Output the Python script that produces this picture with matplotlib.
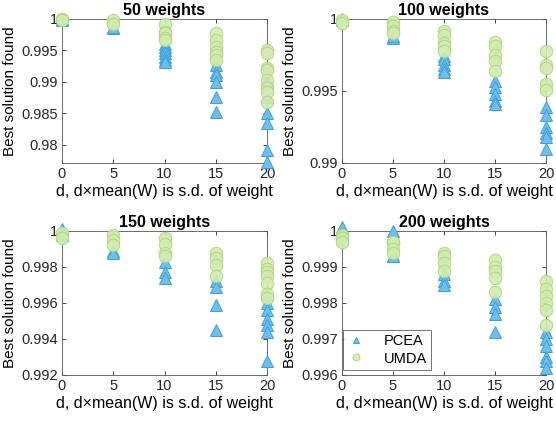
import matplotlib
matplotlib.use("Agg")
import matplotlib.pyplot as plt
from matplotlib.ticker import FuncFormatter

plt.rcParams['font.family'] = ['Liberation Sans', 'DejaVu Sans']

d_values = [0, 5, 10, 15, 20]
titles = ["50 weights", "100 weights", "150 weights", "200 weights"]

# PCEA results per panel, per d
pcea = [
    [[1.0, 0.9999], [0.9986, 0.9987], [0.9961, 0.9956, 0.9951, 0.9946, 0.994, 0.9935, 0.9932],
     [0.9927, 0.9916, 0.9911, 0.99, 0.9876, 0.9852],
     [0.9903, 0.9898, 0.9876, 0.9851, 0.9835, 0.9792, 0.9772]],
    [[1.0, 0.9999], [0.9987, 0.9988], [0.9974, 0.9972, 0.9968, 0.9965, 0.9963],
     [0.9957, 0.9953, 0.9948, 0.9943, 0.9941],
     [0.9939, 0.9933, 0.9925, 0.9921, 0.9918, 0.991]],
    [[1.0001, 0.9998], [0.9989, 0.9988], [0.9983, 0.9977, 0.9974],
     [0.9972, 0.9969, 0.9959, 0.9945],
     [0.9965, 0.996, 0.9956, 0.9951, 0.9948, 0.9944, 0.9928]],
    [[1.0001, 0.9999], [1.0, 0.9993, 0.9993], [0.9988, 0.9986, 0.9985],
     [0.9981, 0.9979, 0.9977, 0.9972],
     [0.9972, 0.997, 0.9968, 0.9965, 0.9964, 0.9962]],
]

# UMDA results per panel, per d
umda = [
    [[1.0, 0.9999], [0.9998, 0.9992], [0.9992, 0.9979, 0.9978, 0.997, 0.9967],
     [0.9978, 0.9967, 0.9956, 0.9948, 0.9943, 0.9935],
     [0.9951, 0.9946, 0.9922, 0.9919, 0.9903, 0.989, 0.9884, 0.9868]],
    [[0.9999, 0.9997], [0.9998, 0.9995, 0.9992, 0.999], [0.9992, 0.9989, 0.9983, 0.9981, 0.9978],
     [0.9984, 0.9981, 0.9975, 0.9971, 0.9964],
     [0.9978, 0.9968, 0.9966, 0.9955, 0.9951]],
    [[0.9999, 0.9996], [0.9998, 0.9995, 0.9992], [0.9996, 0.9993, 0.9988, 0.9986],
     [0.9988, 0.9985, 0.9981, 0.9975],
     [0.9982, 0.9979, 0.9977, 0.9975, 0.9971, 0.9965, 0.9963]],
    [[0.9999, 0.9998, 0.9997], [0.9997, 0.9997, 0.9995, 0.9994], [0.9994, 0.9993, 0.9991, 0.9989],
     [0.9992, 0.999, 0.9989, 0.9987, 0.9983],
     [0.9986, 0.9984, 0.9982, 0.998, 0.9978, 0.9974]],
]

ylims = [(0.9771, 1.0), (0.99, 1.0), (0.992, 1.0), (0.996, 1.0)]
yticks = [
    [0.98, 0.985, 0.99, 0.995, 1.0],
    [0.99, 0.995, 1.0],
    [0.992, 0.994, 0.996, 0.998, 1.0],
    [0.996, 0.997, 0.998, 0.999, 1.0],
]

W, H = 556, 421
fig = plt.figure(figsize=(W / 100, H / 100), dpi=100)

boxes = [(62, 19, 267, 163), (342, 19, 546, 163), (62, 231, 267, 375), (342, 231, 546, 375)]

tri_face = '#6CC0EB'
tri_edge = '#3E9FDB'
circ_face = '#D3EBB0'
circ_edge = '#A9D67A'

for i, (l, t, r, b) in enumerate(boxes):
    ax = fig.add_axes([l / W, 1 - b / H, (r - l) / W, (b - t) / H])
    for j, d in enumerate(d_values):
        ys = pcea[i][j]
        ax.plot([d] * len(ys), ys, linestyle='none', marker='^', markersize=8.5,
                markerfacecolor=tri_face, markeredgecolor=tri_edge, markeredgewidth=0.7,
                clip_on=False, zorder=3, label='PCEA' if j == 0 else None)
    for j, d in enumerate(d_values):
        ys = umda[i][j]
        ax.plot([d] * len(ys), ys, linestyle='none', marker='o', markersize=9,
                markerfacecolor=circ_face, markeredgecolor=circ_edge, markeredgewidth=0.7,
                alpha=0.9, clip_on=False, zorder=4, label='UMDA' if j == 0 else None)
    ax.set_xlim(0, 20)
    ax.set_ylim(*ylims[i])
    ax.set_xticks([0, 5, 10, 15, 20])
    ax.set_yticks(yticks[i])
    ax.yaxis.set_major_formatter(FuncFormatter(lambda v, p: ('%.3f' % v).rstrip('0').rstrip('.')))
    ax.tick_params(direction='in', length=3, width=0.6, labelsize=10.5, colors='#262626',
                   top=True, right=True, pad=3)
    for s in ax.spines.values():
        s.set_linewidth(0.6)
        s.set_color('#555555')
    ax.set_title(titles[i], fontsize=11.5, fontweight='bold', pad=3)
    ax.set_xlabel('d, d\u00d7mean(W) is s.d. of weight', fontsize=11.5, labelpad=2)
    ax.set_ylabel('Best solution found', fontsize=11, labelpad=3)
    if i == 3:
        leg = ax.legend(loc='lower left', bbox_to_anchor=(0.005, 0.035), fontsize=10.5,
                        markerscale=0.55, frameon=True, fancybox=False, edgecolor='#333333',
                        borderaxespad=0, handlelength=1.2, handletextpad=1.3,
                        borderpad=0.3, labelspacing=0.25)
        leg.get_frame().set_linewidth(0.6)

fig.savefig('out.png', dpi=100)
